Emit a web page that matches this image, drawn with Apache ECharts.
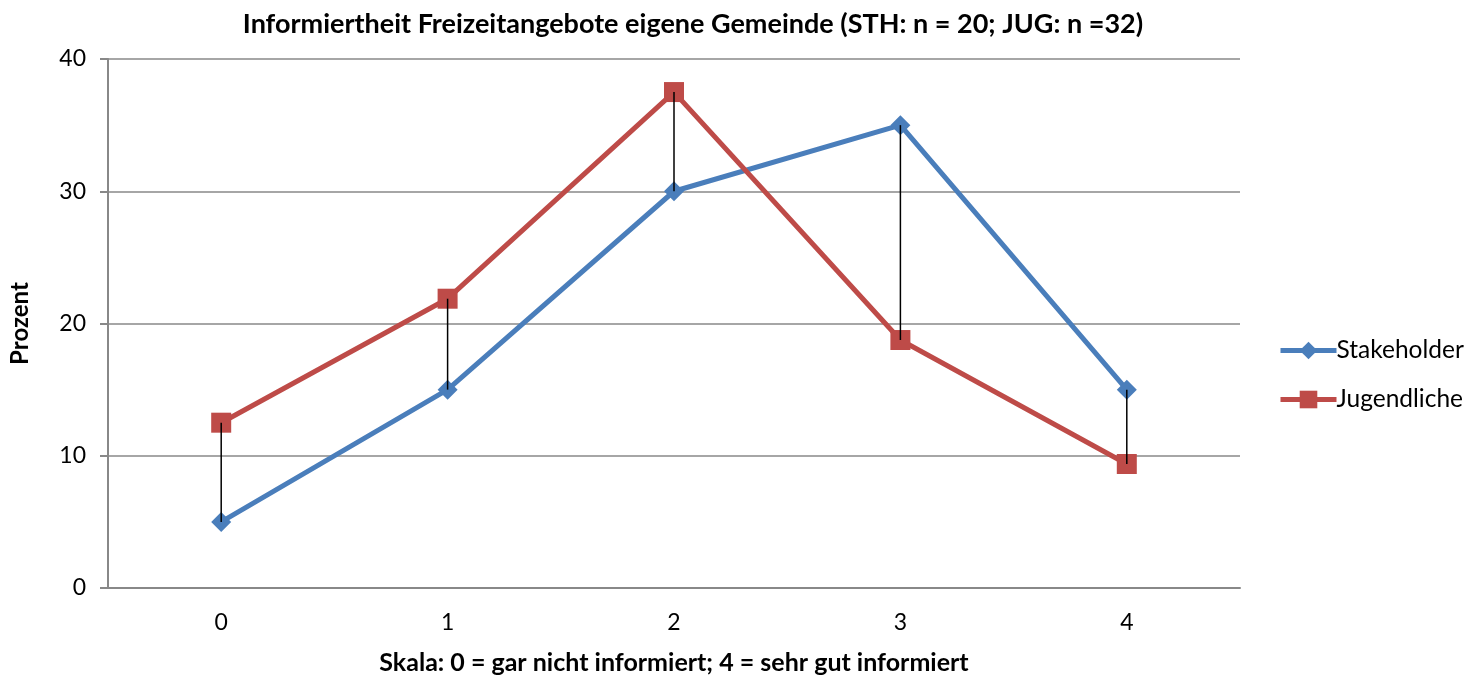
<!DOCTYPE html>
<html>
<head>
<meta charset="utf-8">
<script src="https://cdn.jsdelivr.net/npm/echarts@6/dist/echarts.min.js"></script>
<style>
  html, body { margin: 0; padding: 0; background: #fff; }
  #chart { width: 1479px; height: 677px; }
</style>
</head>
<body>
<div id="chart"></div>
<script>
// Skala 0..4
var categories = ['0', '1', '2', '3', '4'];
var stakeholder = [5, 15, 30, 35, 15];
var jugendliche = [12.5, 21.875, 37.5, 18.75, 9.375];

var font = 'Lato, "Open Sans", sans-serif';

// hoch-tief linien zwischen beiden reihen
var hiLo = [];
for (var i = 0; i < categories.length; i++) {
  hiLo.push([i, stakeholder[i], jugendliche[i]]);
}

var chart = echarts.init(document.getElementById('chart'));
chart.setOption({
  animation: false,
  textStyle: { fontFamily: font },
  title: {
    text: 'Informiertheit Freizeitangebote eigene Gemeinde (STH: n = 20; JUG: n =32)',
    left: 688,
    top: 6,
    textAlign: 'center',
    textStyle: { fontSize: 27, fontWeight: 'bold', color: '#000', fontFamily: font }
  },
  legend: {
    orient: 'vertical',
    left: 1273,
    top: 333,
    itemWidth: 56,
    itemHeight: 22,
    itemGap: 24,
    lineStyle: { width: 5 },
    textStyle: { fontSize: 24.5, color: '#000', fontFamily: font, padding: [0, 0, 0, -5] },
    data: ['Stakeholder', 'Jugendliche']
  },
  grid: { left: 108, right: 239, top: 59, bottom: 89, outerBoundsMode: 'none', containLabel: false },
  xAxis: {
    type: 'category',
    data: categories,
    boundaryGap: true,
    name: 'Skala: 0 = gar nicht informiert; 4 = sehr gut informiert',
    nameLocation: 'middle',
    nameGap: 62,
    nameTextStyle: { fontSize: 25, fontWeight: 'bold', color: '#000' },
    axisLine: { lineStyle: { color: '#888', width: 2 } },
    axisTick: { show: false },
    axisLabel: { fontSize: 23, color: '#000', margin: 23 }
  },
  yAxis: {
    type: 'value',
    min: 0,
    max: 40,
    interval: 10,
    name: 'Prozent',
    nameLocation: 'middle',
    nameGap: 76,
    nameRotate: 90,
    nameTextStyle: { fontSize: 24, fontWeight: 'bold', color: '#000' },
    axisLine: { show: true, lineStyle: { color: '#888', width: 2 } },
    axisTick: { show: true, length: 8, lineStyle: { color: '#888', width: 2 } },
    axisLabel: { fontSize: 23, color: '#000', margin: 22 },
    splitLine: { lineStyle: { color: '#888', width: 1.5 } }
  },
  series: [
    {
      name: 'Stakeholder',
      type: 'line',
      data: stakeholder,
      symbol: 'diamond',
      symbolSize: 20,
      color: '#4A7EBB',
      lineStyle: { width: 5, color: '#4A7EBB' },
      itemStyle: { color: '#4A7EBB' },
      z: 3
    },
    {
      name: 'Jugendliche',
      type: 'line',
      data: jugendliche,
      symbol: 'rect',
      symbolSize: 20,
      color: '#BE4B48',
      lineStyle: { width: 5, color: '#BE4B48' },
      itemStyle: { color: '#BE4B48' },
      z: 4
    },
    {
      type: 'custom',
      data: hiLo,
      z: 10,
      silent: true,
      renderItem: function (params, api) {
        var a = api.coord([api.value(0), api.value(1)]);
        var b = api.coord([api.value(0), api.value(2)]);
        return {
          type: 'line',
          shape: { x1: a[0], y1: a[1], x2: b[0], y2: b[1] },
          style: { stroke: '#000', lineWidth: 1.5 }
        };
      }
    }
  ]
});
</script>
</body>
</html>
